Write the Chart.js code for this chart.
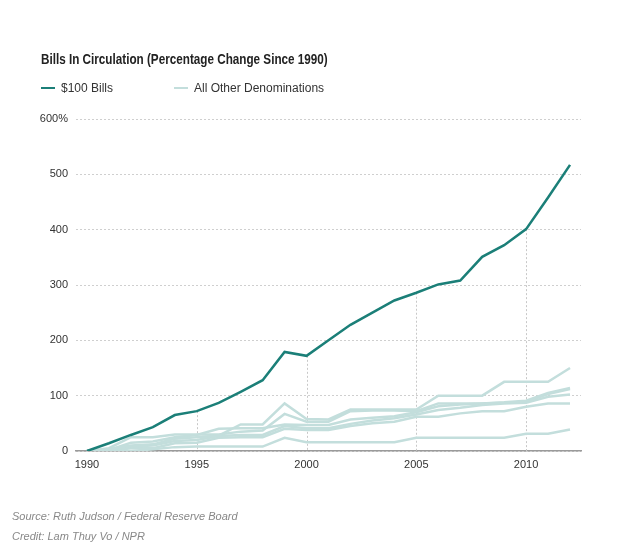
<!DOCTYPE html>
<html>
<head>
<meta charset="utf-8">
<script src="https://cdn.jsdelivr.net/npm/chart.js@4"></script>
<style>
  html, body { margin:0; padding:0; background:#fff; }
  body { width:639px; height:556px; position:relative; overflow:hidden; font-family:"Liberation Sans", Arial, sans-serif; }
  #chart { position:absolute; left:0; top:0; width:639px; height:556px; }
  .title { position:absolute; left:41px; top:50px; font-family:"Liberation Sans",sans-serif; font-weight:bold; font-size:15px; color:#222; white-space:nowrap; transform:scaleX(0.78); transform-origin:0 0; }
  .leg { position:absolute; top:81px; font-size:12px; color:#333; white-space:nowrap; }
  .leg i { display:inline-block; width:14px; height:2px; vertical-align:middle; margin-right:6px; position:relative; top:-1px; }
  .foot { position:absolute; left:12px; font-size:11px; font-style:italic; color:#888; white-space:nowrap; }
</style>
</head>
<body>
<canvas id="chart" width="639" height="556"></canvas>
<div class="title">Bills In Circulation (Percentage Change Since 1990)</div>
<div class="leg" style="left:41px"><i style="background:#1b7f78"></i>$100 Bills</div>
<div class="leg" style="left:174px"><i style="background:#c3dedc"></i>All Other Denominations</div>
<div class="foot" style="top:510px">Source: Ruth Judson / Federal Reserve Board</div>
<div class="foot" style="top:530px">Credit: Lam Thuy Vo / NPR</div>
<script>
const years = [1990,1991,1992,1993,1994,1995,1996,1997,1998,1999,2000,2001,2002,2003,2004,2005,2006,2007,2008,2009,2010,2011,2012];
const yTicks = [0,100,200,300,400,500,600];
const hundredBills = [0,14,29,43,65,72,87,107,128,179,172,200,228,250,272,286,301,308,351,372,401,458,517];
const otherA = [0,3,10,12,22,25,28,48,48,86,58,57,75,75,75,75,100,100,100,125,125,125,150];
const otherB = [0,5,25,25,30,30,30,35,37,67,53,53,72,73,73,72,86,86,86,88,91,105,114];
const otherC = [0,2,15,17,25,29,40,41,41,48,47,47,57,60,63,70,81,84,86,87,89,103,112];
const otherD = [0,0,8,10,18,20,27,29,29,45,41,41,49,55,59,66,74,78,83,86,87,98,102];
const otherE = [0,0,5,5,14,15,24,25,25,40,38,38,45,50,53,62,62,68,72,72,80,86,86];
const otherF = [0,0,0,3,7,8,8,8,8,24,16,16,16,16,16,24,24,24,24,24,31,31,39];
const dropYears = [1995,2000,2005,2010];

const DARK = '#1b7f78', LIGHT = '#c3dedc';
const others = [otherA, otherB, otherC, otherD, otherE, otherF];

const datasets = [{
  label: '$100 Bills', data: hundredBills, borderColor: DARK, borderWidth: 2.5,
  pointRadius: 0, tension: 0, order: 0, fill: false
}].concat(others.map((d, i) => ({
  label: 'All Other Denominations', data: d, borderColor: LIGHT, borderWidth: 2.5,
  pointRadius: 0, tension: 0, order: 1, fill: false
})));

const dropLines = {
  id: 'dropLines',
  beforeDatasetsDraw(chart) {
    const ctx = chart.ctx, meta = chart.getDatasetMeta(0), ys = chart.scales.y;
    ctx.save();
    ctx.strokeStyle = '#c8c8c8'; ctx.lineWidth = 1; ctx.setLineDash([2, 2]);
    dropYears.forEach(yr => {
      const p = meta.data[years.indexOf(yr)];
      const x = Math.round(p.x) + 0.5;
      ctx.beginPath(); ctx.moveTo(x, p.y); ctx.lineTo(x, ys.getPixelForValue(0)); ctx.stroke();
    });
    ctx.restore();
  }
};

new Chart(document.getElementById('chart'), {
  type: 'line',
  data: { labels: years, datasets },
  options: {
    responsive: false, animation: false,
    layout: { padding: { left: 0, right: 58, top: 119, bottom: 80 } },
    plugins: { legend: { display: false }, tooltip: { enabled: false }, title: { display: false } },
    scales: {
      x: {
        type: 'category', offset: true,
        grid: { display: false, drawTicks: false },
        border: { display: true, color: '#9a9a9a', width: 1.5 },
        ticks: {
          autoSkip: false, maxRotation: 0, padding: 7, color: '#333',
          font: { family: 'Liberation Sans', size: 11 },
          callback: function(v, i) { const y = years[i]; return y % 5 === 0 ? String(y) : ''; }
        },
        afterFit(s) { s.height = 25; }
      },
      y: {
        min: 0, max: 600,
        afterBuildTicks(s) { s.ticks = yTicks.map(v => ({ value: v })); },
        grid: { color: '#cfcfcf', lineWidth: 1, drawTicks: false },
        border: { display: false, dash: [2, 2] },
        ticks: {
          padding: 8, color: '#333', font: { family: 'Liberation Sans', size: 11 },
          callback: v => v === 600 ? '600%' : String(v)
        },
        afterFit(s) { s.width = 76; }
      }
    }
  },
  plugins: [dropLines]
});
</script>
</body>
</html>
